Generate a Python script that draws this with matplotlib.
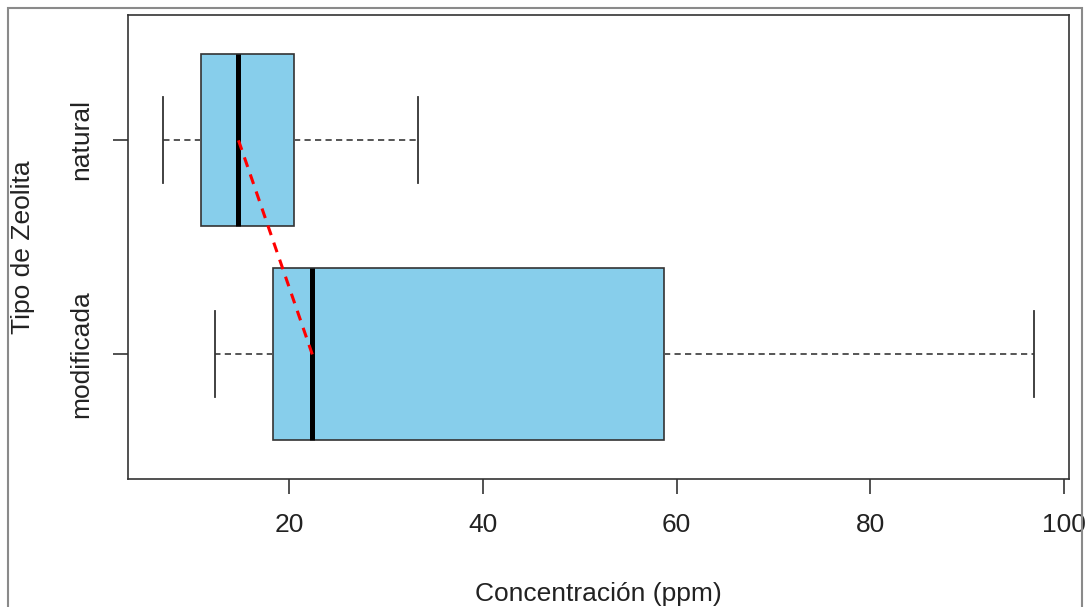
import matplotlib.pyplot as plt
from matplotlib.patches import Rectangle

plt.rcParams['font.family'] = ['Liberation Sans', 'DejaVu Sans']

# box statistics (ppm)
groups = ['modificada', 'natural']
whislo = [12.4, 6.98]
q1 = [18.35, 10.87]
med = [22.4, 14.76]
q3 = [58.66, 20.55]
whishi = [96.9, 33.36]
positions = [1, 2]

stats = []
for i, g in enumerate(groups):
    stats.append(dict(label=g, whislo=whislo[i], q1=q1[i], med=med[i],
                      q3=q3[i], whishi=whishi[i], fliers=[]))

fig = plt.figure(figsize=(10.91, 6.07), dpi=100)
ax = fig.add_axes([128 / 1091, 1 - 479 / 607, 941 / 1091, 464 / 607])

edge = '#333333'
ax.bxp(stats, positions=positions, widths=0.8, capwidths=0.4,
       orientation='horizontal', patch_artist=True,
       boxprops=dict(facecolor='#87CEEB', edgecolor=edge, linewidth=1.2),
       medianprops=dict(color='black', linewidth=3.6, solid_capstyle='butt'),
       whiskerprops=dict(color='#555555', linewidth=1.4, linestyle=(0, (3.2, 2.2))),
       capprops=dict(color=edge, linewidth=1.3))

# line joining the medians
ax.plot(med, positions, color='red', linewidth=2.2, linestyle=(0, (3.3, 2.6)), zorder=5)

ax.set_xlim(3.38, 100.5)
ax.set_ylim(0.42, 2.58)
ax.set_xticks([20, 40, 60, 80, 100])
ax.set_yticks(positions)
ax.set_yticklabels(groups, rotation=90, va='center')

fs = 19
for s in ax.spines.values():
    s.set_color(edge)
    s.set_linewidth(1.2)
ax.tick_params(axis='both', colors=edge, labelcolor='#222222', length=10.8,
               width=1.2, labelsize=fs)
ax.tick_params(axis='x', pad=14)
ax.tick_params(axis='y', pad=14)

ax.set_xlabel('Concentración (ppm)', fontsize=fs, color='#222222')
ax.set_ylabel('Tipo de Zeolita', fontsize=fs, color='#222222')
ax.xaxis.set_label_coords(0.5, -0.222)
ax.yaxis.set_label_coords(-0.099, 0.5)

# outer grey frame
fig.patches.append(Rectangle((8 / 1091, -0.1), 1074 / 1091, 1.1 - 8 / 607,
                             transform=fig.transFigure, fill=False,
                             edgecolor='#8a8a8a', linewidth=1.5))

fig.savefig('out.png', dpi=100)
